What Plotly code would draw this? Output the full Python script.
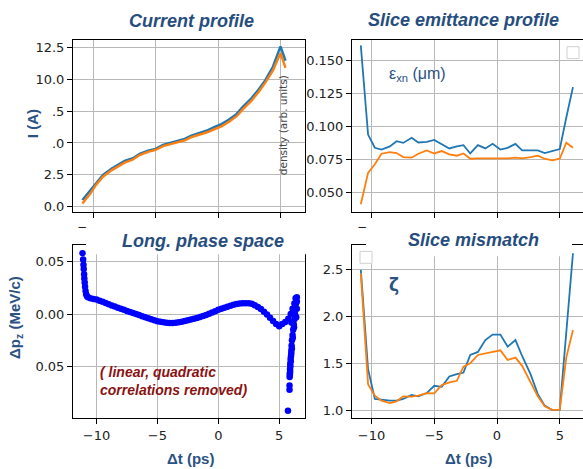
import plotly.graph_objects as go

W, H = 583, 469

# ---------------- data ----------------
# common slice grid (ps)
t_slices = [-10.85, -10.27, -9.73, -9.2, -8.53, -8.0, -7.47, -6.8, -6.27, -5.6, -5.0, -4.4,
            -3.8, -3.2, -2.67, -2.13, -1.52, -0.93, -0.35, 0.27, 0.85, 1.47, 2.0, 2.67,
            3.25, 3.8, 4.4, 5.0, 5.52, 6.05]

# Current profile (A)
t_current = [-10.85, -10.27, -9.73, -9.2, -8.53, -8.0, -7.47, -6.8, -6.27, -5.6, -5.0, -4.4,
             -3.8, -3.2, -2.67, -2.13, -1.52, -0.93, -0.35, 0.27, 0.85, 1.47, 2.0, 2.67,
             3.25, 3.8, 4.4, 5.0, 5.4]
current_blue = [0.52, 1.22, 1.95, 2.5, 2.98, 3.3, 3.6, 3.8, 4.15, 4.4, 4.54, 4.85,
                5.0, 5.19, 5.32, 5.58, 5.76, 5.96, 6.22, 6.48, 6.82, 7.26, 7.85, 8.5,
                9.2, 9.95, 11.0, 12.58, 11.45]
current_orange = [0.25, 0.95, 1.75, 2.35, 2.85, 3.15, 3.45, 3.7, 4.05, 4.3, 4.45, 4.75,
                  4.9, 5.08, 5.2, 5.45, 5.62, 5.82, 6.05, 6.3, 6.65, 7.08, 7.65, 8.3,
                  9.0, 9.75, 10.7, 12.05, 10.9]

# Slice emittance (um)
emit_blue = [0.1616, 0.094, 0.084, 0.0827, 0.085, 0.089, 0.0877, 0.0916, 0.088, 0.0885,
             0.090, 0.087, 0.0835, 0.085, 0.086, 0.0797, 0.086, 0.0835, 0.087, 0.0827,
             0.084, 0.087, 0.082, 0.082, 0.082, 0.080, 0.0815, 0.083, 0.107, 0.130]
emit_orange = [0.0412, 0.065, 0.0715, 0.0795, 0.0807, 0.080, 0.077, 0.0765, 0.0795, 0.082,
               0.0797, 0.0815, 0.079, 0.078, 0.0797, 0.0757, 0.076, 0.076, 0.076, 0.0757,
               0.076, 0.0765, 0.076, 0.077, 0.078, 0.0757, 0.0745, 0.0757, 0.0878, 0.084]

# Slice mismatch
mism_blue = [2.5, 1.44, 1.124, 1.113, 1.106, 1.106, 1.124, 1.166, 1.152, 1.187, 1.265, 1.254,
             1.364, 1.388, 1.406, 1.593, 1.625, 1.752, 1.81, 1.81, 1.681, 1.752, 1.582, 1.388,
             1.176, 1.053, 1.007, 1.011, 1.865, 2.677]
mism_orange = [2.465, 1.282, 1.159, 1.106, 1.081, 1.099, 1.152, 1.148, 1.159, 1.187, 1.184,
               1.272, 1.30, 1.318, 1.469, 1.505, 1.593, 1.611, 1.628, 1.642, 1.54, 1.565,
               1.477, 1.307, 1.152, 1.046, 1.007, 1.011, 1.565, 1.858]

# Longitudinal phase space (correlations removed)
lps_t = [-11.15, -11.1, -11.07, -11.05, -11.02, -11.0, -10.97, -10.94, -10.9, -10.85, -10.78, -10.7,
         -10.5, -10.25, -10.0, -9.75, -9.5, -9.25, -9.0, -8.75, -8.5, -8.25, -8.0, -7.75,
         -7.5, -7.25, -7.0, -6.75, -6.5, -6.25, -6.0, -5.75, -5.5, -5.25, -5.0, -4.75,
         -4.5, -4.25, -4.0, -3.75, -3.5, -3.25, -3.0, -2.75, -2.5, -2.25, -2.0, -1.75,
         -1.5, -1.25, -1.0, -0.75, -0.5, -0.25, 0.0, 0.25, 0.5, 0.75, 1.0, 1.25,
         1.5, 1.75, 2.0, 2.25, 2.5, 2.75, 3.0, 3.25, 3.5, 3.75, 4.0, 4.25,
         4.5, 4.75, 5.0, 5.25, 5.5, 5.75, 5.95, 6.1, 6.25, 6.35, 6.45, 6.45,
         6.45, 6.4, 6.0, 6.38, 6.35, 6.3, 6.25, 6.2, 6.15, 6.1, 6.05, 6.02,
         6.0, 5.97, 5.95, 5.92, 5.9, 5.88, 6.32, 6.22, 6.12, 6.04, 5.99, 5.94,
         5.91, 5.89, 5.87, 5.86, 5.85, 5.85, 5.72]
lps_dp = [0.058, 0.052, 0.047, 0.043, 0.038, 0.034, 0.030, 0.026, 0.022, 0.019, 0.017, 0.016,
          0.0150, 0.0143, 0.0138, 0.0128, 0.0117, 0.0105, 0.0093, 0.0082, 0.0071, 0.0060, 0.0050, 0.0040,
          0.0030, 0.0020, 0.0010, 0.0000, -0.0010, -0.0020, -0.0030, -0.0040, -0.0050, -0.0060, -0.0068, -0.0074,
          -0.0079, -0.0082, -0.0084, -0.0085, -0.0082, -0.0078, -0.0073, -0.0067, -0.0060, -0.0052, -0.0044, -0.0037,
          -0.0028, -0.0018, -0.0008, 0.0002, 0.0015, 0.0028, 0.0040, 0.0050, 0.0060, 0.0070, 0.0080, 0.0088,
          0.0095, 0.0100, 0.0103, 0.0104, 0.0104, 0.0098, 0.0085, 0.0068, 0.0048, 0.0022, -0.0005, -0.0035,
          -0.0065, -0.0095, -0.0117, -0.0095, -0.0075, -0.0045, 0.0000, 0.0050, 0.0100, 0.0150, 0.0160, 0.0120,
          0.0050, -0.0030, -0.0080, 0.0100, 0.0050, 0.0000, -0.0050, -0.0100, -0.0150, -0.0200, -0.0250, -0.0300,
          -0.0350, -0.0400, -0.0450, -0.0500, -0.0550, -0.0580, -0.0025, -0.0125, -0.0225, -0.0325, -0.0375, -0.0425,
          -0.0475, -0.0525, -0.0565, -0.0600, -0.0680, -0.0720, -0.0920]

# ---------------- style ----------------
BLUE = "#1f77b4"
ORANGE = "#ff7f0e"
TXT = "#2b5283"
GRID = "#b8b8b8"
XT = [-10, -5, 0, 5]
XTT = ["\u221210", "\u22125", "0", "5"]


def px(x):
    return x / W


def py(y):
    return 1 - y / H


def axis(domain, rng, tickvals, ticktext, anchor, show_labels=True, mirror=True):
    return dict(domain=domain, range=rng, tickvals=tickvals, ticktext=ticktext,
                anchor=anchor, showline=True, linecolor="black", linewidth=1,
                mirror=mirror, ticks="outside", ticklen=5, tickcolor="black", tickwidth=1,
                showgrid=True, gridcolor=GRID, gridwidth=1, zeroline=False,
                showticklabels=show_labels,
                tickfont=dict(family="DejaVu Sans", size=13, color="#222222"))


fig = go.Figure()

# top-left: current
fig.add_trace(go.Scatter(x=t_current, y=current_blue, mode="lines", line=dict(color=BLUE, width=2.4),
                         xaxis="x", yaxis="y", showlegend=False))
fig.add_trace(go.Scatter(x=t_current, y=current_orange, mode="lines", line=dict(color=ORANGE, width=2.4),
                         xaxis="x", yaxis="y", showlegend=False))
# top-right: emittance
fig.add_trace(go.Scatter(x=t_slices, y=emit_blue, mode="lines", line=dict(color=BLUE, width=1.8),
                         xaxis="x2", yaxis="y2", showlegend=False))
fig.add_trace(go.Scatter(x=t_slices, y=emit_orange, mode="lines", line=dict(color=ORANGE, width=1.8),
                         xaxis="x2", yaxis="y2", showlegend=False))
# bottom-left: LPS
fig.add_trace(go.Scatter(x=lps_t, y=lps_dp, mode="markers",
                         marker=dict(color="#0000ff", size=6.5, line=dict(width=0)),
                         xaxis="x3", yaxis="y3", showlegend=False))
# bottom-right: mismatch
fig.add_trace(go.Scatter(x=t_slices, y=mism_blue, mode="lines", line=dict(color=BLUE, width=1.8),
                         xaxis="x4", yaxis="y4", showlegend=False))
fig.add_trace(go.Scatter(x=t_slices, y=mism_orange, mode="lines", line=dict(color=ORANGE, width=1.8),
                         xaxis="x4", yaxis="y4", showlegend=False))

L_dom = [px(73), px(305)]
R_dom = [px(352), 1.0]
T_dom = [py(213), py(40)]
B_dom = [py(421), py(247)]

fig.update_layout(
    width=W, height=H, margin=dict(l=0, r=0, t=0, b=0),
    paper_bgcolor="white", plot_bgcolor="white",
    xaxis=axis(L_dom, [-11.6, 6.96], XT, XTT, "y", show_labels=False),
    yaxis=axis(T_dom, [-0.39, 13.1], [0, 2.5, 5, 7.5, 10, 12.5],
               ["0.0", "2.5", ".0", ".5", "10.0", "12.5"], "x"),
    xaxis2=axis(R_dom, [-11.55, 6.85], XT, XTT, "y2", show_labels=False),
    yaxis2=axis(T_dom, [0.0356, 0.1659], [0.05, 0.075, 0.1, 0.125, 0.15],
                ["0.050", "0.075", "0.100", "0.125", "0.150"], "x2", mirror=False),
    xaxis3=axis(L_dom, [-11.93, 7.12], XT, XTT, "y3"),
    yaxis3=axis(B_dom, [-0.0993, 0.0654], [-0.05, 0, 0.05], ["0.05", "0.00", "0.05"], "x3"),
    xaxis4=axis(R_dom, [-11.55, 6.85], XT, XTT, "y4"),
    yaxis4=axis(B_dom, [0.918, 2.76], [1.0, 1.5, 2.0, 2.5], ["1.0", "1.5", "2.0", "2.5"], "x4",
                mirror=False),
)

shapes = []
# white covers behind the lower titles
shapes.append(dict(type="rect", xref="paper", yref="paper", x0=px(86), x1=px(306), y0=py(256), y1=py(226),
                   fillcolor="white", line=dict(width=0), layer="above"))
shapes.append(dict(type="rect", xref="paper", yref="paper", x0=px(366), x1=px(572), y0=py(258), y1=py(226),
                   fillcolor="white", line=dict(width=0), layer="above"))
# empty legend boxes
shapes.append(dict(type="rect", xref="paper", yref="paper", x0=px(567), x1=px(579), y0=py(59), y1=py(47),
                   fillcolor="white", line=dict(color="#d0d0d0", width=1), layer="above"))
shapes.append(dict(type="rect", xref="paper", yref="paper", x0=px(360), x1=px(372), y0=py(265), y1=py(253),
                   fillcolor="white", line=dict(color="#d0d0d0", width=1), layer="above"))
fig.update_layout(shapes=shapes)


def ann(text, x, y, size, color, weight="normal", style="normal", angle=0, family="Liberation Sans",
        xanchor="center", align="center"):
    fig.add_annotation(text=text, xref="paper", yref="paper", x=px(x), y=py(y), showarrow=False,
                       xanchor=xanchor, yanchor="middle", textangle=angle, align=align,
                       font=dict(family=family, size=size, color=color, weight=weight, style=style))


TITLE = "#264d7e"
ann("Current profile", 191, 21, 18, TITLE, "bold", "italic")
ann("Slice emittance profile", 463, 20, 18, TITLE, "bold", "italic")
ann("Long. phase space", 203, 243, 18, TITLE, "bold", "italic")
ann("Slice mismatch", 473, 242, 18, TITLE, "bold", "italic")

ann("I (A)", 32, 125, 15, TXT, "bold", angle=-90)
ann("\u0394p<sub>z</sub> (MeV/c)", 16, 320, 15, TXT, "bold", angle=-90)
ann("\u0394t (ps)", 190, 461, 15, TXT, "bold")
ann("\u0394t (ps)", 468, 461, 15, TXT, "bold")

ann("\u03b5<sub>xn</sub> (\u03bcm)", 387, 75, 16, TXT, xanchor="left")
ann("\u03b6", 394, 287, 17, TXT, "bold", family="DejaVu Sans")

ann("( linear, quadratic<br>correlations removed)", 98, 383, 14, "#8b1212", "bold", "italic",
    xanchor="left", align="left")

ann("density (arb. units)", 283, 126, 10.5, "#444444", angle=-90, family="DejaVu Sans")
ann("\u2212", 82, 228, 12, "#222222", family="DejaVu Sans")
ann("\u2212", 362, 228, 12, "#222222", family="DejaVu Sans")

fig.write_html("out.html")
